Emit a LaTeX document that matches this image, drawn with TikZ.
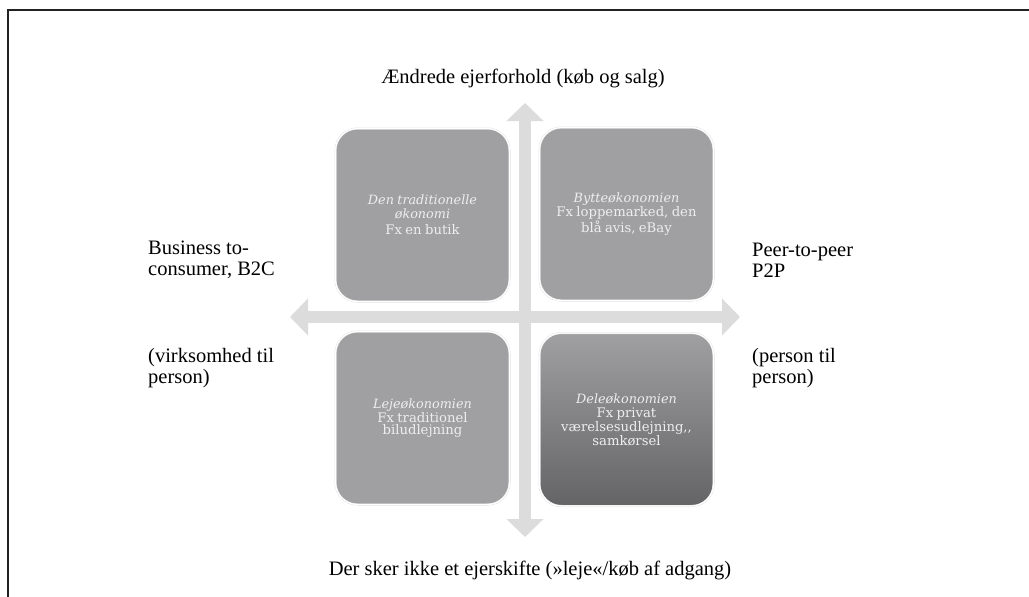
\documentclass[tikz,border=0pt]{standalone}
\usepackage{fontspec}
\setmainfont{Liberation Serif}
\newfontfamily\boxfont{DejaVu Serif}
\usetikzlibrary{arrows.meta}
\definecolor{axisgray}{HTML}{DCDCDC}
\definecolor{boxgray}{HTML}{A0A0A2}
\definecolor{boxdark}{HTML}{646466}
\definecolor{boxtext}{HTML}{EEEEEE}
\definecolor{framecol}{HTML}{222222}
\newcommand\qtit{\fontsize{12.8}{14}\selectfont\itshape}
\newcommand\qbody{\fontsize{13.2}{14}\selectfont\upshape}
\begin{document}
\begin{tikzpicture}[x=1pt,y=-1pt,
  quad/.style={rectangle, rounded corners=22pt, fill=boxgray, draw=black!12,
    double=white, double distance=1.2pt, line width=0.4pt,
    minimum width=174pt, minimum height=173pt, inner sep=0pt,
    align=center, text width=165pt, font=\boxfont, text=boxtext},
  axis/.style={draw=axisgray, line width=12pt,
    {Triangle[width=36pt,length=18pt]}-{Triangle[width=36pt,length=18pt]}},
  lab/.style={font=\fontsize{20.5}{21}\selectfont, text=black, inner sep=0pt},
  side/.style={lab, align=left, anchor=west}]
\useasboundingbox (0,0) rectangle (1029,597);
\fill[white] (0,0) rectangle (1029,597);
% frame
\draw[framecol, line width=1.6pt] (8,597) -- (8,10) -- (1029,10);
% axes
\coordinate (vt) at (525,103);
\coordinate (vb) at (525,537);
\coordinate (hl) at (290,317);
\coordinate (hr) at (740,317);
\draw[axis] (vb) -- (vt);
\draw[axis] (hl) -- (hr);
% quadrants
\node[quad] (tl) at (422.5,215) {\qtit Den traditionelle\\\qtit økonomi\\[4pt]\qbody Fx en butik};
\node[quad] (tr) at (626.5,214) {\qtit Bytteøkonomien\\\qbody Fx loppemarked, den\\\qbody blå avis, eBay};
\node[quad] (bl) at (422.5,418) {\qtit Lejeøkonomien\\\qbody Fx traditionel\\\qbody biludlejning};
\node[quad, top color=boxgray, bottom color=boxdark] (br) at (626.5,419.5) {\qtit Deleøkonomien\\\qbody Fx privat\\\qbody værelsesudlejning,,\\\qbody samkørsel\\[8pt]};
% labels
\node[lab] (ltop) at (523,78) {Ændrede ejerforhold (køb og salg)};
\node[lab] (lbot) at (530,570) {Der sker ikke et ejerskifte (»leje«/køb af adgang)};
\node[side] (lb2c) at (148,260) {Business to-\\consumer, B2C};
\node[side] (lvtp) at (148,368) {(virksomhed til\\person)};
\node[side] (lp2p) at (752,260) {Peer-to-peer\\P2P};
\node[side] (lptp) at (752,368) {(person til\\person)};
\end{tikzpicture}
\end{document}
